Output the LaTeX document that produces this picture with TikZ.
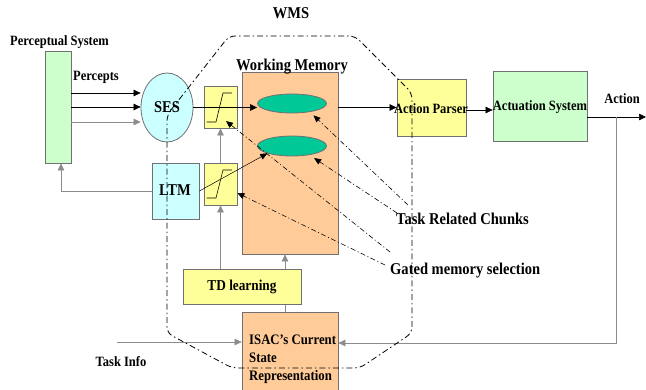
\documentclass[tikz,border=0pt]{standalone}
\usepackage{fontspec}
\setmainfont{Liberation Serif}[FakeStretch=0.88]
\usetikzlibrary{arrows.meta,shapes.geometric,calc}
\definecolor{peach}{HTML}{FFCC99}
\definecolor{pale}{HTML}{FFFF99}
\definecolor{mint}{HTML}{CCFFCC}
\definecolor{ice}{HTML}{CCFFFF}
\definecolor{jade}{HTML}{00C896}
\definecolor{edge}{HTML}{707070}
\definecolor{lineg}{HTML}{8C8C8C}
\begin{document}
\begin{tikzpicture}[x=1pt,y=-1pt,
 box/.style={draw=edge,line width=0.8pt,inner sep=0pt},
 txt/.style={font=\bfseries\fontsize{14.2}{17}\selectfont,inner sep=0pt},
 bigtxt/.style={font=\bfseries\fontsize{16.5}{19}\selectfont,inner sep=0pt},
 arr/.style={line width=0.6pt,-{Triangle[length=7pt,width=6.5pt]}},
 garr/.style={arr,draw=lineg},
 thinarr/.style={line width=0.5pt,-{Triangle[length=7pt,width=6pt]}},
 dd/.style={line width=0.6pt,dash pattern=on 5pt off 2.5pt on 1pt off 2.5pt},
 ddarr/.style={dd,-{Triangle[length=7pt,width=6pt]}},
 sig/.style={line width=0.6pt,draw=black}]
\useasboundingbox (0,0) rectangle (646,389);
\fill[white] (0,0) rectangle (646,389);

% main blocks
\node[box,fill=mint,minimum width=26pt,minimum height=112pt] (perc) at (58,107) {};
\node[box,fill=ice,ellipse,minimum width=52pt,minimum height=69pt] (ses) at (167,107.5) {};
\node[box,fill=peach,minimum width=96pt,minimum height=182pt] (wm) at (290,163) {};
\node[box,fill=peach,minimum width=96pt,minimum height=82pt] (isac) at (290,353) {};
\draw[garr] ([xshift=-5pt]isac.north) -- ([xshift=-5pt]wm.south);
\node[box,fill=pale,minimum width=118pt,minimum height=35pt] (td) at (242,286.5) {};
\node[box,fill=pale,minimum width=33pt,minimum height=42pt] (g1) at (220.5,107) {};
\node[box,fill=pale,minimum width=33pt,minimum height=42pt] (g2) at (220.5,184) {};
\node[box,fill=ice,minimum width=47pt,minimum height=56pt] (ltm) at (175.5,191) {};
\node[box,fill=jade,ellipse,minimum width=69pt,minimum height=19pt] (ell1) at (292,103.5) {};
\node[box,fill=jade,ellipse,minimum width=69pt,minimum height=20pt] (ell2) at (292,146) {};
\node[box,fill=pale,minimum width=69pt,minimum height=57pt] (ap) at (431.5,107.5) {};
\node[box,fill=mint,minimum width=94pt,minimum height=70pt] (act) at (540,106) {};

% sigmoids
\draw[sig] ([shift={(-14,15)}]g1.center) -- ++(9.5,0) -- ++(7,-29) -- ++(9,0);
\draw[sig] ([shift={(-14,14)}]g2.center) -- ++(9.5,0) -- ++(7,-28) -- ++(9,0);

% coordinates
\coordinate (actout) at (646,117);
\coordinate (fb) at (616,117);
\coordinate (ti) at (117,342);
\coordinate (trcA) at (408,205);
\coordinate (trcB) at (397,213);
\coordinate (gmsA) at (390,252);
\coordinate (gmsB) at (385,265);

% connectors
\draw[arr] ([yshift=14pt]perc.east) -- ([yshift=14pt]perc.east -| ses.west);
\draw[arr] (perc.east) -- (perc.east -| ses.west);
\draw[garr] ([yshift=-15pt]perc.east) -- ([yshift=-15pt]perc.east -| ses.west);
\draw[arr] (ses.east) -- (ses.east -| ell1.west);
\draw[arr] (ap.west -| wm.east) -- (ap.west);
\draw[arr] ([yshift=-2.5pt]ap.east) -- ([yshift=-2.5pt]ap.east -| act.west);
\draw[arr] ([yshift=-11pt]act.east) -- (actout);
\draw[garr] (fb) |- ([yshift=10pt]isac.east);
\draw[garr] (ti) -- (ti -| isac.west);
\draw[garr] (ltm.west) -| ([xshift=3pt]perc.south);
\draw[garr] (g2.north) -- (g1.south);
\draw[garr] (td.north -| g2) -- (g2.south);
\draw[thinarr] (ltm.east) -- (ell2.south west);

% dash-dot pointers
\draw[ddarr] (trcA) -- ([yshift=-4pt]ell1.-20);
\draw[ddarr] (trcB) -- ([yshift=-4pt]ell2.-20);
\draw[ddarr] (gmsA) -- ([shift={(5.5,14)}]g1.center);
\draw[ddarr] (gmsB) -- ([yshift=-9pt]g2.east);

% WMS boundary
\draw[line width=0.8pt,dash pattern=on 6pt off 3pt on 1.5pt off 3pt,rounded corners=6pt]
  (167,115) -- (229,36) -- (355,36) -- (412,93) -- (412,333) -- (360,368) -- (232,368) -- (167,333) -- cycle;

% texts
\node[bigtxt] (wmst) at (291,13) {WMS};
\node[txt,anchor=west] (perct) at (10,42) {Perceptual System};
\node[txt,anchor=west] (pcpt) at (73,77) {Percepts};
\node[bigtxt] (wmt) at (292,67) {Working Memory};
\node[bigtxt] (sest) at (167,107) {SES};
\node[bigtxt] (ltmt) at (175,190) {LTM};
\node[txt] (apt) at (431,109) {Action Parser};
\node[txt] (actt) at (540,107) {Actuation System};
\node[txt] (actiont) at (622,99) {Action};
\node[txt,font=\bfseries\fontsize{15.1}{17}\selectfont] (tdt) at (242,287) {TD learning};
\node[txt,anchor=west,align=left,font=\bfseries\fontsize{14.5}{18}\selectfont] (isact) at (249,359) {ISAC’s Current\\State\\Representation};
\node[txt] (tit) at (121,362) {Task Info};
\node[bigtxt,anchor=west] (trct) at (396,219) {Task Related Chunks};
\node[bigtxt,anchor=west] (gmst) at (390,271) {Gated memory selection};
\end{tikzpicture}
\end{document}
